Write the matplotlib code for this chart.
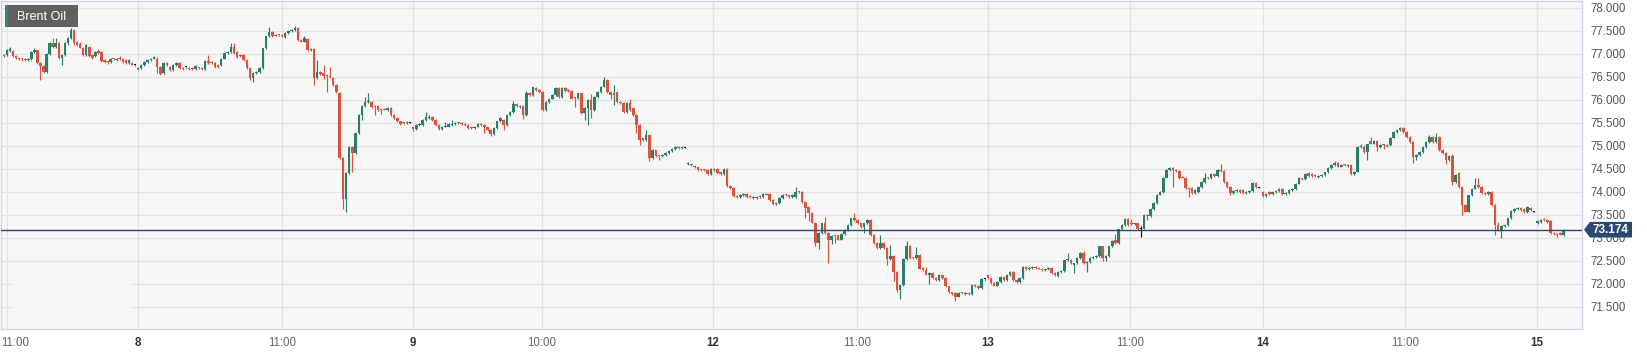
import matplotlib
matplotlib.use("Agg")
import matplotlib.pyplot as plt
from matplotlib.patches import Rectangle, Polygon
import numpy as np

# ---- data: 15-minute candles (open, high, low, close) per trading day ----
day07 = [
    (76.98, 77.00, 76.93, 76.96), (76.98, 77.10, 76.96, 77.08), (77.06, 77.16, 77.04, 77.10),
    (77.07, 77.09, 76.94, 76.96), (76.96, 76.98, 76.90, 76.92), (76.92, 76.94, 76.87, 76.90),
    (76.90, 76.92, 76.85, 76.88), (76.89, 76.91, 76.85, 76.87), (76.87, 76.91, 76.85, 76.89),
    (76.88, 77.06, 76.86, 77.05), (77.05, 77.12, 77.03, 77.08), (77.08, 77.09, 76.78, 76.80),
    (76.80, 76.82, 76.43, 76.74), (76.74, 76.76, 76.58, 76.60), (76.60, 77.02, 76.58, 77.00),
    (77.00, 77.25, 76.98, 77.23), (77.23, 77.34, 77.14, 77.16), (77.16, 77.34, 77.14, 77.23),
    (77.23, 77.26, 76.90, 76.92), (76.92, 77.00, 76.76, 76.98), (76.98, 77.25, 76.96, 77.23),
    (77.23, 77.36, 77.20, 77.34), (77.34, 77.56, 77.32, 77.52), (77.52, 77.54, 77.20, 77.23),
    (77.25, 77.28, 77.18, 77.20), (77.22, 77.26, 77.12, 77.14), (77.14, 77.16, 76.95, 76.98),
    (76.98, 77.21, 76.96, 77.19), (77.16, 77.18, 76.94, 76.96), (76.98, 77.00, 76.90, 76.92),
    (76.95, 77.06, 76.93, 77.04), (77.06, 77.10, 77.00, 77.03), (77.05, 77.07, 76.83, 76.85),
    (76.86, 76.88, 76.80, 76.83), (76.83, 76.85, 76.78, 76.82), (76.82, 76.92, 76.80, 76.90),
    (76.89, 76.90, 76.86, 76.88), (76.87, 76.92, 76.85, 76.89), (76.92, 76.96, 76.86, 76.88),
    (76.90, 76.92, 76.81, 76.83), (76.86, 76.88, 76.78, 76.80), (76.80, 76.88, 76.78, 76.86),
    (76.80, 76.82, 76.75, 76.77), (76.75, 76.76, 76.74, 76.75),
]
day08 = [
    (76.68, 76.72, 76.66, 76.70), (76.69, 76.78, 76.67, 76.76), (76.76, 76.85, 76.74, 76.83),
    (76.83, 76.89, 76.81, 76.87), (76.87, 76.92, 76.85, 76.90), (76.90, 76.96, 76.88, 76.93),
    (76.90, 76.93, 76.58, 76.72), (76.72, 76.74, 76.54, 76.56), (76.58, 76.82, 76.56, 76.80),
    (76.80, 76.82, 76.74, 76.76), (76.72, 76.74, 76.63, 76.65), (76.65, 76.78, 76.63, 76.76),
    (76.76, 76.82, 76.74, 76.80), (76.80, 76.82, 76.67, 76.69), (76.70, 76.72, 76.66, 76.68),
    (76.71, 76.72, 76.70, 76.71), (76.69, 76.71, 76.65, 76.67), (76.69, 76.71, 76.66, 76.68),
    (76.67, 76.76, 76.65, 76.74), (76.70, 76.72, 76.67, 76.69), (76.69, 76.71, 76.66, 76.68),
    (76.67, 76.87, 76.65, 76.85), (76.85, 76.98, 76.78, 76.80), (76.83, 76.85, 76.78, 76.80),
    (76.80, 76.82, 76.70, 76.72), (76.76, 76.78, 76.70, 76.72), (76.76, 76.92, 76.74, 76.90),
    (76.90, 77.03, 76.88, 77.01), (77.01, 77.07, 76.99, 77.05), (77.05, 77.23, 77.03, 77.16),
    (77.16, 77.23, 76.99, 77.01), (77.05, 77.07, 76.91, 76.93), (76.98, 77.00, 76.94, 76.96),
    (76.98, 77.00, 76.85, 76.87), (76.87, 76.89, 76.67, 76.69), (76.69, 76.71, 76.44, 76.47),
    (76.47, 76.60, 76.40, 76.58), (76.58, 76.63, 76.56, 76.61), (76.61, 76.71, 76.59, 76.69),
    (76.69, 77.14, 76.67, 77.12), (77.12, 77.40, 77.10, 77.38), (77.38, 77.59, 77.36, 77.48),
    (77.48, 77.50, 77.36, 77.38), (77.41, 77.43, 77.38, 77.40), (77.42, 77.44, 77.39, 77.41),
    (77.41, 77.43, 77.36, 77.38), (77.37, 77.47, 77.35, 77.45), (77.45, 77.52, 77.43, 77.50),
    (77.50, 77.55, 77.48, 77.53), (77.52, 77.61, 77.50, 77.56), (77.56, 77.58, 77.28, 77.30),
    (77.31, 77.33, 77.25, 77.27), (77.27, 77.39, 77.25, 77.34), (77.32, 77.34, 77.07, 77.09),
    (77.09, 77.13, 77.07, 77.10), (77.10, 77.12, 76.32, 76.47), (76.47, 76.87, 76.45, 76.61),
    (76.60, 76.62, 76.55, 76.57), (76.58, 76.76, 76.45, 76.52), (76.54, 76.56, 76.18, 76.51),
    (76.52, 76.72, 76.48, 76.50), (76.47, 76.49, 76.30, 76.32), (76.32, 76.34, 76.16, 76.18),
    (76.16, 76.18, 74.71, 74.73), (74.73, 74.75, 73.62, 73.84), (73.84, 74.42, 73.57, 74.40),
    (74.40, 75.00, 74.38, 74.98), (74.98, 75.00, 74.43, 74.84), (74.84, 75.29, 74.82, 75.27),
    (75.27, 75.69, 75.25, 75.67), (75.67, 75.89, 75.56, 75.87), (75.87, 76.07, 75.85, 75.96),
    (75.95, 76.16, 75.93, 75.97), (75.96, 75.98, 75.83, 75.85), (75.86, 75.89, 75.67, 75.85),
    (75.86, 75.88, 75.76, 75.78), (75.80, 75.82, 75.70, 75.78), (75.80, 75.82, 75.77, 75.79),
    (75.78, 75.84, 75.76, 75.82), (75.82, 75.84, 75.65, 75.67), (75.67, 75.69, 75.58, 75.60),
    (75.60, 75.62, 75.51, 75.53), (75.53, 75.55, 75.46, 75.48), (75.50, 75.52, 75.47, 75.49),
    (75.49, 75.53, 75.47, 75.51), (75.50, 75.51, 75.49, 75.50),
]
day09 = [
    (75.40, 75.42, 75.33, 75.36), (75.36, 75.48, 75.34, 75.46), (75.46, 75.50, 75.44, 75.48),
    (75.45, 75.58, 75.43, 75.56), (75.56, 75.74, 75.54, 75.62), (75.61, 75.67, 75.59, 75.62),
    (75.62, 75.64, 75.54, 75.56), (75.56, 75.58, 75.43, 75.45), (75.45, 75.47, 75.34, 75.36),
    (75.36, 75.44, 75.34, 75.42), (75.42, 75.52, 75.40, 75.43), (75.42, 75.49, 75.40, 75.47),
    (75.46, 75.56, 75.44, 75.47), (75.47, 75.51, 75.45, 75.49), (75.50, 75.52, 75.47, 75.49),
    (75.49, 75.51, 75.45, 75.47), (75.47, 75.49, 75.43, 75.45), (75.45, 75.47, 75.36, 75.38),
    (75.39, 75.41, 75.36, 75.38), (75.38, 75.44, 75.36, 75.42), (75.42, 75.49, 75.40, 75.47),
    (75.48, 75.50, 75.44, 75.46), (75.45, 75.47, 75.27, 75.40), (75.40, 75.42, 75.32, 75.34),
    (75.35, 75.37, 75.22, 75.26), (75.26, 75.40, 75.24, 75.38), (75.38, 75.55, 75.36, 75.53),
    (75.53, 75.62, 75.51, 75.60), (75.56, 75.58, 75.34, 75.45), (75.45, 75.69, 75.43, 75.67),
    (75.67, 75.76, 75.65, 75.74), (75.74, 75.98, 75.72, 75.92), (75.91, 75.93, 75.84, 75.86),
    (75.85, 75.89, 75.83, 75.87), (75.87, 75.89, 75.58, 75.67), (75.67, 76.20, 75.65, 76.16),
    (76.16, 76.18, 76.09, 76.11), (76.11, 76.29, 76.09, 76.27), (76.25, 76.27, 76.20, 76.22),
    (76.22, 76.24, 76.16, 76.18), (76.18, 76.20, 75.76, 75.78), (75.78, 75.98, 75.76, 75.96),
    (75.96, 76.05, 75.94, 76.03), (76.03, 76.13, 76.01, 76.11), (76.11, 76.27, 76.09, 76.25),
    (76.25, 76.27, 76.05, 76.07), (76.07, 76.27, 76.05, 76.25), (76.25, 76.27, 76.18, 76.20),
    (76.21, 76.23, 76.18, 76.20), (76.20, 76.22, 76.01, 76.03), (76.05, 76.07, 75.85, 76.04),
    (76.04, 76.16, 76.02, 76.14), (76.14, 76.16, 75.69, 75.71), (75.71, 75.84, 75.56, 75.82),
    (75.82, 76.01, 75.45, 75.99), (75.99, 76.13, 75.60, 75.78), (75.78, 76.09, 75.76, 76.07),
    (76.07, 76.20, 76.05, 76.18), (76.18, 76.31, 76.16, 76.29), (76.29, 76.49, 76.27, 76.43),
    (76.43, 76.45, 76.16, 76.18), (76.18, 76.20, 76.01, 76.11), (76.11, 76.32, 75.88, 76.14),
    (76.18, 76.20, 75.94, 75.96), (75.96, 75.98, 75.91, 75.93), (75.93, 75.95, 75.72, 75.74),
    (75.74, 75.96, 75.72, 75.94), (75.94, 76.03, 75.76, 75.78), (75.82, 75.84, 75.65, 75.67),
    (75.67, 75.69, 75.27, 75.45), (75.45, 75.47, 75.02, 75.13), (75.16, 75.18, 75.11, 75.13),
    (75.13, 75.34, 75.11, 75.24), (75.24, 75.26, 74.67, 74.73), (74.73, 74.93, 74.71, 74.91),
    (74.90, 74.92, 74.75, 74.77), (74.79, 74.81, 74.69, 74.78), (74.78, 74.82, 74.76, 74.80),
    (74.80, 74.86, 74.78, 74.84), (74.84, 74.91, 74.82, 74.89), (74.89, 74.95, 74.87, 74.93),
    (74.93, 74.99, 74.91, 74.97), (74.98, 75.00, 74.94, 74.96), (74.96, 74.99, 74.94, 74.97),
    (74.96, 74.97, 74.95, 74.96),
]
day12 = [
    (74.60, 74.64, 74.58, 74.62), (74.60, 74.62, 74.56, 74.58), (74.56, 74.58, 74.51, 74.53),
    (74.53, 74.55, 74.46, 74.48), (74.48, 74.50, 74.45, 74.47), (74.48, 74.50, 74.45, 74.47),
    (74.47, 74.49, 74.37, 74.39), (74.39, 74.51, 74.37, 74.49), (74.49, 74.51, 74.46, 74.48),
    (74.49, 74.51, 74.38, 74.40), (74.42, 74.44, 74.37, 74.39), (74.39, 74.51, 74.37, 74.49),
    (74.49, 74.51, 74.11, 74.13), (74.13, 74.15, 74.06, 74.08), (74.08, 74.10, 73.88, 73.90),
    (73.90, 73.92, 73.87, 73.89), (73.89, 73.95, 73.87, 73.93), (73.93, 73.97, 73.91, 73.95),
    (73.96, 73.98, 73.87, 73.89), (73.90, 73.92, 73.87, 73.89), (73.89, 73.91, 73.84, 73.86),
    (73.86, 73.91, 73.84, 73.89), (73.90, 73.92, 73.87, 73.89), (73.89, 73.97, 73.87, 73.95),
    (73.95, 73.97, 73.92, 73.94), (73.95, 73.97, 73.81, 73.83), (73.83, 73.85, 73.71, 73.73),
    (73.73, 73.78, 73.71, 73.76), (73.76, 73.88, 73.74, 73.86), (73.86, 73.95, 73.84, 73.93),
    (73.93, 73.95, 73.90, 73.92), (73.92, 73.94, 73.87, 73.89), (73.89, 73.95, 73.87, 73.93),
    (73.89, 74.11, 73.87, 74.00), (74.00, 74.02, 73.97, 73.99), (74.00, 74.02, 73.76, 73.78),
    (73.78, 73.80, 73.42, 73.64), (73.66, 73.68, 73.37, 73.53), (73.53, 73.55, 73.31, 73.33),
    (73.33, 73.35, 72.81, 72.88), (72.88, 73.12, 72.75, 73.10), (73.10, 73.33, 73.08, 73.31),
    (73.31, 73.46, 73.08, 73.10), (73.10, 73.12, 72.44, 72.94), (72.94, 73.06, 72.86, 73.04),
    (73.04, 73.06, 72.88, 73.03), (73.05, 73.07, 72.94, 72.96), (72.96, 73.11, 72.94, 73.09),
    (73.09, 73.19, 73.07, 73.17), (73.17, 73.30, 73.15, 73.28), (73.28, 73.44, 73.26, 73.42),
    (73.42, 73.53, 73.37, 73.39), (73.39, 73.41, 73.29, 73.31), (73.31, 73.33, 73.22, 73.24),
    (73.24, 73.33, 73.10, 73.31), (73.31, 73.41, 73.29, 73.39), (73.39, 73.41, 73.04, 73.06),
    (73.06, 73.08, 72.87, 72.89), (72.89, 72.91, 72.75, 72.77), (72.77, 73.06, 72.75, 72.88),
    (72.88, 72.90, 72.75, 72.77), (72.77, 72.79, 72.41, 72.53), (72.53, 72.84, 72.51, 72.61),
    (72.61, 72.63, 72.05, 72.26), (72.26, 72.28, 71.81, 71.86), (71.86, 71.99, 71.66, 71.97),
    (71.97, 72.55, 71.95, 72.53), (72.53, 72.93, 72.51, 72.82), (72.82, 72.84, 72.53, 72.55),
    (72.56, 72.58, 72.53, 72.55), (72.55, 72.80, 72.53, 72.62), (72.62, 72.64, 72.31, 72.33),
    (72.34, 72.36, 72.28, 72.30), (72.30, 72.37, 72.18, 72.20), (72.20, 72.25, 72.00, 72.23),
    (72.23, 72.25, 72.10, 72.12), (72.12, 72.14, 72.06, 72.08), (72.08, 72.21, 72.06, 72.19),
    (72.19, 72.21, 72.10, 72.12), (72.12, 72.14, 71.92, 71.94), (71.94, 71.96, 71.79, 71.81),
    (71.81, 71.83, 71.75, 71.77), (71.79, 71.81, 71.62, 71.72), (71.72, 71.81, 71.70, 71.79),
    (71.80, 71.82, 71.77, 71.79), (71.77, 71.82, 71.75, 71.80), (71.80, 71.82, 71.75, 71.77),
    (71.77, 71.99, 71.75, 71.97), (71.97, 71.99, 71.92, 71.94), (71.95, 71.97, 71.89, 71.91),
    (71.91, 72.12, 71.89, 72.10), (72.10, 72.11, 72.09, 72.10),
]
day13 = [
    (72.19, 72.21, 72.10, 72.12), (72.12, 72.14, 71.99, 72.01), (72.01, 72.03, 71.94, 71.96),
    (71.96, 72.06, 71.94, 72.04), (72.04, 72.17, 72.02, 72.15), (72.15, 72.17, 72.06, 72.08),
    (72.08, 72.21, 72.06, 72.19), (72.19, 72.28, 72.17, 72.26), (72.26, 72.28, 72.06, 72.08),
    (72.08, 72.10, 72.01, 72.03), (72.03, 72.14, 72.01, 72.12), (72.12, 72.38, 72.10, 72.36),
    (72.36, 72.38, 72.29, 72.31), (72.31, 72.36, 72.29, 72.34), (72.34, 72.38, 72.32, 72.36),
    (72.36, 72.38, 72.32, 72.34), (72.35, 72.37, 72.31, 72.33), (72.32, 72.34, 72.28, 72.30),
    (72.30, 72.33, 72.28, 72.31), (72.31, 72.37, 72.29, 72.34), (72.34, 72.36, 72.21, 72.23),
    (72.24, 72.26, 72.17, 72.19), (72.17, 72.28, 72.15, 72.26), (72.26, 72.29, 72.24, 72.27),
    (72.27, 72.53, 72.25, 72.51), (72.51, 72.66, 72.49, 72.52), (72.52, 72.54, 72.42, 72.44),
    (72.41, 72.46, 72.23, 72.44), (72.44, 72.57, 72.42, 72.55), (72.55, 72.68, 72.53, 72.66),
    (72.66, 72.72, 72.42, 72.44), (72.44, 72.50, 72.26, 72.48), (72.48, 72.57, 72.46, 72.55),
    (72.55, 72.60, 72.53, 72.58), (72.58, 72.62, 72.56, 72.60), (72.60, 72.83, 72.58, 72.81),
    (72.81, 72.83, 72.50, 72.55), (72.55, 72.62, 72.50, 72.60), (72.60, 72.83, 72.58, 72.81),
    (72.81, 72.95, 72.79, 72.93), (72.96, 73.09, 72.86, 72.88), (72.88, 73.20, 72.86, 73.18),
    (73.18, 73.30, 73.16, 73.28), (73.28, 73.42, 73.26, 73.40), (73.40, 73.42, 73.26, 73.28),
    (73.30, 73.40, 73.27, 73.29), (73.29, 73.33, 73.27, 73.31), (73.31, 73.33, 73.17, 73.19),
    (73.20, 73.25, 73.01, 73.20), (73.20, 73.51, 73.18, 73.49), (73.49, 73.51, 73.38, 73.48),
    (73.47, 73.64, 73.45, 73.62), (73.62, 73.78, 73.60, 73.76), (73.76, 73.96, 73.74, 73.94),
    (73.94, 74.02, 73.92, 74.00), (74.00, 74.33, 73.98, 74.31), (74.31, 74.49, 74.29, 74.47),
    (74.47, 74.55, 74.45, 74.51), (74.51, 74.53, 74.11, 74.47), (74.48, 74.50, 74.43, 74.45),
    (74.45, 74.47, 74.28, 74.30), (74.32, 74.34, 74.29, 74.31), (74.30, 74.32, 74.06, 74.08),
    (74.08, 74.10, 73.89, 74.06), (74.08, 74.10, 73.95, 73.97), (73.97, 74.06, 73.95, 74.04),
    (74.00, 74.13, 73.98, 74.11), (74.11, 74.24, 74.09, 74.22), (74.22, 74.40, 74.20, 74.29),
    (74.30, 74.32, 74.27, 74.29), (74.29, 74.40, 74.27, 74.38), (74.38, 74.40, 74.33, 74.35),
    (74.35, 74.49, 74.33, 74.47), (74.47, 74.60, 74.43, 74.45), (74.45, 74.47, 74.20, 74.22),
    (74.22, 74.24, 74.09, 74.11), (74.11, 74.13, 73.92, 73.97), (73.97, 74.04, 73.95, 74.02),
    (74.02, 74.05, 74.00, 74.03), (74.03, 74.05, 73.98, 74.00), (74.03, 74.05, 73.95, 73.97),
    (73.98, 74.02, 73.96, 74.00), (74.00, 74.04, 73.98, 74.02), (74.02, 74.21, 74.00, 74.19),
    (74.19, 74.21, 74.09, 74.11), (74.09, 74.10, 74.08, 74.09),
]
day14 = [
    (73.99, 74.01, 73.88, 73.90), (73.90, 73.98, 73.88, 73.96), (73.99, 74.01, 73.94, 73.96),
    (73.95, 74.01, 73.93, 73.99), (73.99, 74.04, 73.97, 74.02), (74.02, 74.08, 74.00, 74.06),
    (74.06, 74.08, 73.93, 73.95), (73.95, 74.00, 73.93, 73.98), (73.98, 74.05, 73.96, 74.03),
    (74.03, 74.08, 74.01, 74.06), (74.06, 74.20, 74.04, 74.18), (74.18, 74.32, 74.16, 74.30),
    (74.29, 74.31, 74.25, 74.27), (74.27, 74.40, 74.25, 74.38), (74.40, 74.42, 74.33, 74.35),
    (74.38, 74.40, 74.33, 74.35), (74.36, 74.38, 74.32, 74.34), (74.33, 74.36, 74.31, 74.34),
    (74.34, 74.39, 74.32, 74.37), (74.37, 74.44, 74.35, 74.42), (74.42, 74.53, 74.40, 74.51),
    (74.51, 74.60, 74.49, 74.58), (74.58, 74.66, 74.56, 74.62), (74.62, 74.64, 74.53, 74.55),
    (74.55, 74.60, 74.53, 74.58), (74.59, 74.61, 74.56, 74.58), (74.57, 74.61, 74.55, 74.59),
    (74.59, 74.61, 74.37, 74.39), (74.39, 74.46, 74.37, 74.44), (74.44, 75.00, 74.42, 74.98),
    (74.98, 75.03, 74.96, 74.99), (74.98, 75.02, 74.84, 74.86), (74.86, 75.05, 74.69, 75.03),
    (75.10, 75.20, 75.03, 75.05), (75.05, 75.12, 75.03, 75.10), (75.10, 75.12, 74.89, 74.98),
    (74.98, 75.04, 74.96, 75.02), (75.02, 75.04, 74.93, 75.01), (74.99, 75.03, 74.97, 75.01),
    (75.01, 75.20, 74.99, 75.18), (75.18, 75.33, 75.16, 75.31), (75.31, 75.36, 75.29, 75.34),
    (75.34, 75.42, 75.32, 75.38), (75.38, 75.40, 75.29, 75.31), (75.31, 75.33, 75.18, 75.20),
    (75.20, 75.22, 75.07, 75.09), (75.09, 75.11, 74.62, 74.76), (74.76, 74.82, 74.70, 74.80),
    (74.80, 74.89, 74.78, 74.87), (74.87, 74.99, 74.85, 74.97), (74.97, 75.11, 74.95, 75.09),
    (75.09, 75.24, 75.07, 75.20), (75.20, 75.22, 75.07, 75.09), (75.09, 75.29, 75.07, 75.20),
    (75.20, 75.22, 74.89, 74.91), (74.91, 74.93, 74.82, 74.84), (74.84, 74.86, 74.60, 74.69),
    (74.69, 74.80, 74.67, 74.78), (74.78, 74.82, 74.15, 74.22), (74.22, 74.38, 74.20, 74.36),
    (74.41, 74.43, 74.09, 74.11), (74.11, 74.13, 73.50, 73.71), (73.71, 73.73, 73.55, 73.57),
    (73.57, 73.94, 73.55, 73.92), (73.92, 74.09, 73.90, 74.07), (74.07, 74.29, 74.05, 74.14),
    (74.14, 74.29, 74.09, 74.11), (74.11, 74.13, 73.96, 73.98), (73.98, 74.00, 73.93, 73.95),
    (73.95, 74.02, 73.93, 74.00), (74.00, 74.02, 73.69, 73.71), (73.71, 73.73, 73.06, 73.28),
    (73.28, 73.35, 73.15, 73.17), (73.17, 73.28, 73.00, 73.26), (73.26, 73.30, 73.24, 73.28),
    (73.28, 73.44, 73.26, 73.42), (73.42, 73.61, 73.40, 73.59), (73.58, 73.64, 73.56, 73.62),
    (73.62, 73.66, 73.60, 73.64), (73.64, 73.66, 73.59, 73.61), (73.62, 73.64, 73.53, 73.55),
    (73.55, 73.68, 73.53, 73.66), (73.64, 73.66, 73.59, 73.61), (73.57, 73.58, 73.56, 73.57),
]
day15 = [
    (73.31, 73.38, 73.29, 73.36), (73.35, 73.41, 73.33, 73.39), (73.40, 73.42, 73.36, 73.38),
    (73.39, 73.41, 73.33, 73.35), (73.37, 73.39, 73.08, 73.10), (73.10, 73.12, 73.07, 73.09),
    (73.08, 73.10, 73.02, 73.06), (73.10, 73.12, 73.05, 73.07), (73.07, 73.20, 73.03, 73.174),
]

sessions = [day07, day08, day09, day12, day13, day14, day15]
# first and last 15-minute slot of each session on the chart's slot axis
session_first_slot = [0.0, 45.0, 137.3, 229.6, 330.2, 422.5, 514.7]
session_last_slot = [44.0, 136.3, 228.6, 329.2, 421.2, 513.5, 523.4]

tick_slots = [1.0, 45.0, 93.3, 137.2, 180.5, 237.9, 286.2, 330.2, 377.9, 422.5, 470.1, 514.4]
tick_labels = ['11:00', '8', '11:00', '9', '10:00', '12', '11:00', '13', '11:00', '14', '11:00', '15']
price_ticks = [71.5, 72.0, 72.5, 73.0, 73.5, 74.0, 74.5, 75.0, 75.5, 76.0, 76.5, 77.0, 77.5, 78.0]
last_price = 73.174
series_name = 'Brent Oil'

# ---- styling ----
W, H = 1647, 355
GREEN = '#2b7e69'
RED = '#d9533f'
DOJI = '#111111'
FONT = ['Liberation Sans', 'DejaVu Sans']
plt.rcParams['font.family'] = FONT

fig = plt.figure(figsize=(W / 100, H / 100), dpi=100, facecolor='white')
ax_left, ax_right, ax_top, ax_bottom = 1, 1582, 1, 329
ax = fig.add_axes([ax_left / W, 1 - ax_bottom / H, (ax_right - ax_left) / W, (ax_bottom - ax_top) / H])
ax.set_facecolor('#f7f7f7')
ax.set_xlim(-0.97, 529.6)
ax.set_ylim(71.014, 78.152)

ax.set_axisbelow(True)
ax.set_xticks(tick_slots)
ax.set_xticklabels([''] * len(tick_slots))
ax.set_yticks(price_ticks)
ax.yaxis.tick_right()
ax.set_yticklabels(['{:.3f}'.format(v) for v in price_ticks])
ax.tick_params(axis='y', length=0, pad=6, labelsize=8.3, labelcolor='#555555')
ax.tick_params(axis='x', length=0)
ax.grid(True, color='#e2e2e2', linewidth=0.9)
for sp in ax.spines.values():
    sp.set_color('#cfd5e6')
    sp.set_linewidth(1.0)

# small blank patch over the grid at bottom-left
ax.add_patch(Rectangle((2.6, 71.014), 40.5, 1.24, facecolor='#f7f7f7', edgecolor='none', zorder=1))

# candles
for bars, s0, s1 in zip(sessions, session_first_slot, session_last_slot):
    arr = np.array(bars, dtype=float)
    o, h, l, c = arr.T
    xs = np.linspace(s0, s1, len(arr))
    cols = np.where(c > o, GREEN, np.where(c < o, RED, DOJI))
    ax.vlines(xs, l, h, colors=cols, linewidth=0.85, zorder=3)
    lo = np.minimum(o, c)
    hi = np.maximum(o, c)
    ht = np.maximum(hi - lo, 0.022)
    ax.bar(xs, ht, bottom=lo, width=0.85, color=cols, linewidth=0, zorder=4)

# current price line
ax.axhline(last_price, color='#2b4870', linewidth=1.0, zorder=5)

# x labels (drawn as text so the first one stays inside the figure)
for s, lab in zip(tick_slots, tick_labels):
    is_day = ':' not in lab
    kw = dict(fontsize=8.3, va='center', transform=ax.get_xaxis_transform(), clip_on=False)
    if is_day:
        kw.update(color='#333333', fontweight='bold')
    else:
        kw.update(color='#666666')
    if s == tick_slots[0]:
        ax.text(-0.9, -0.043, lab, ha='left', **kw)
    else:
        ax.text(s, -0.043, lab, ha='center', **kw)

# price tag on the right
def fxy(x, y):
    return (x / W, 1 - y / H)

yc = 229.7
tag = Polygon([fxy(1584, yc), fxy(1590, yc - 7.8), fxy(1632, yc - 7.8), fxy(1632, yc + 7.8), fxy(1590, yc + 7.8)],
              closed=True, transform=fig.transFigure, facecolor='#2b4870', edgecolor='none', zorder=10)
fig.patches.append(tag)
fig.text(*fxy(1610.5, yc + 0.3), '{:.3f}'.format(last_price), color='white', fontsize=8.5, fontweight='bold',
         ha='center', va='center', zorder=11)

# legend box
fig.patches.append(Rectangle(fxy(5, 27), 73 / W, 22 / H, transform=fig.transFigure,
                             facecolor='#606060', edgecolor='none', zorder=10))
fig.patches.append(Rectangle(fxy(5, 27), 3 / W, 22 / H, transform=fig.transFigure,
                             facecolor='#2e8b70', edgecolor='none', zorder=11))
fig.text(*fxy(17, 16.5), series_name, color='white', fontsize=9, ha='left', va='center', zorder=12)

fig.savefig('out.png', dpi=100, facecolor='white')
